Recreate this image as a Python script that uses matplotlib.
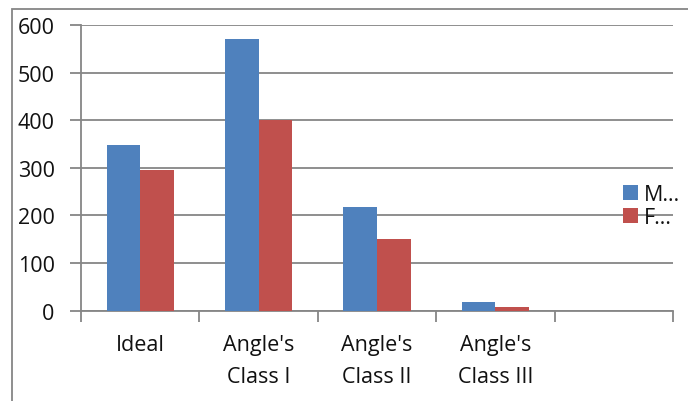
import numpy as np
import matplotlib
matplotlib.use("Agg")
import matplotlib.pyplot as plt
from matplotlib.patches import Rectangle

# ---------------------------------------------------------
# DATA
# ---------------------------------------------------------
categories = ["Ideal", "Angle's\nClass I", "Angle's\nClass II", "Angle's\nClass III", ""]
male = [348, 571, 217, 18, np.nan]
female = [296, 401, 150, 8, np.nan]
series_labels = ["M\u2026", "F\u2026"]
yticks = [0, 100, 200, 300, 400, 500, 600]

blue = "#4F81BD"
red = "#C0504D"
grey = "#868686"

plt.rcParams["font.family"] = ["Open Sans", "DejaVu Sans"]

fig = plt.figure(figsize=(6.88, 4.02), dpi=100)
ax = fig.add_axes([81 / 688, 1 - 311.7 / 402, (673 - 81) / 688, (311.7 - 26) / 402])

x = np.arange(len(categories))
w = 0.283
ax.bar(x - w / 2, male, width=w, color=blue, label=series_labels[0], zorder=3)
ax.bar(x + w / 2, female, width=w, color=red, label=series_labels[1], zorder=3)

ax.set_xlim(-0.5, len(categories) - 0.5)
ax.set_ylim(0, 600)
ax.set_yticks(yticks)
ax.yaxis.grid(True, color=grey, linewidth=1.3, zorder=0)

# category boundaries get the tick marks, centers get the labels
ax.set_xticks(np.arange(len(categories) + 1) - 0.5)
ax.set_xticklabels([])
ax.set_xticks(x, minor=True)
ax.set_xticklabels(categories, minor=True, linespacing=1.65)
ax.tick_params(axis="x", which="major", length=8, width=1.3, color=grey, direction="out")
ax.tick_params(axis="x", which="minor", length=0, pad=17, labelsize=15.5, labelcolor="#111111")
ax.tick_params(axis="y", length=8, width=1.3, color=grey, pad=11, labelsize=15.5, labelcolor="#111111")

for s in ["top", "right"]:
    ax.spines[s].set_visible(False)
for s in ["left", "bottom"]:
    ax.spines[s].set_color(grey)
    ax.spines[s].set_linewidth(1.3)

leg = ax.legend(loc="center left", bbox_to_anchor=(0.915, 0.365), frameon=False, fontsize=15.5,
                handlelength=0.7, handleheight=0.7, handletextpad=0.3, labelspacing=0.1,
                borderaxespad=0, borderpad=0)
for t in leg.get_texts():
    t.set_color("#111111")

# outer chart frame
fig.patches.append(Rectangle((12 / 688, -0.2), 1.0, 1.2 - 10 / 402, transform=fig.transFigure,
                             fill=False, edgecolor=grey, linewidth=1.3))

fig.savefig("out.png", dpi=100, facecolor="white")
